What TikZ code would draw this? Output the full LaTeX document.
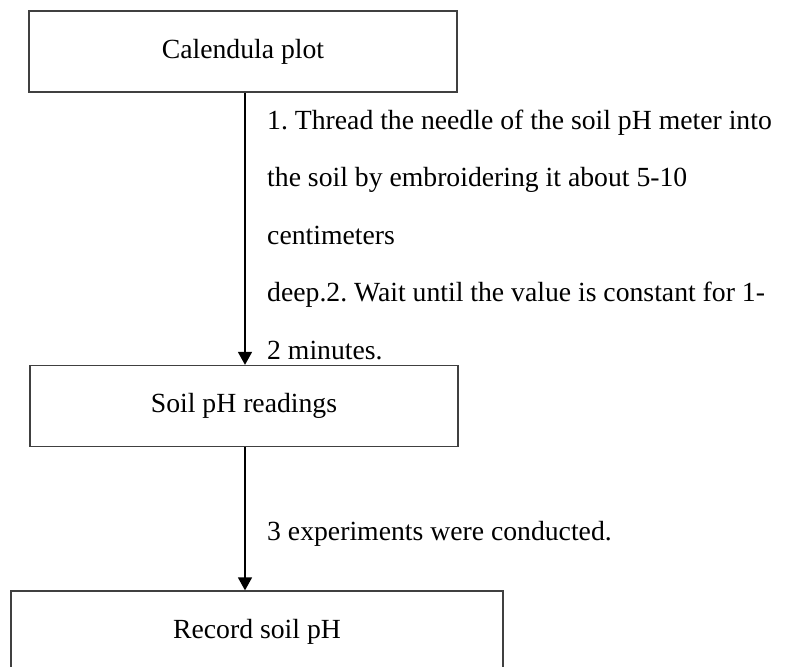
\documentclass[tikz,border=0pt]{standalone}
\usepackage{fontspec}
\setmainfont{Liberation Serif}
\usetikzlibrary{arrows.meta}

\tikzset{
  stage/.style={draw=black!75, line width=1.3pt, inner sep=0pt, minimum width=428pt, minimum height=81pt},
  flow/.style={line width=1.6pt, -{Triangle[width=14pt,length=13pt]}},
  note/.style={inner sep=0pt, align=left}
}

\begin{document}
\begin{tikzpicture}
  \begin{scope}[x=1pt,y=-1pt]

    \fontsize{27.7}{57.5}\selectfont\frenchspacing
    \clip (0,0) rectangle (789,666);

    \node[stage] (plot)     at (243,51.5)  {Calendula plot};
    \node[stage] (readings) at (244,406)   {Soil pH readings};
    \node[stage, minimum width=492pt] (record) at (257,631.5) {Record soil pH};

    \draw[flow] ([xshift=2pt]plot.south) -- ([xshift=1pt]readings.north);
    \draw[flow] ([xshift=1pt]readings.south) -- ([xshift=1pt]readings.south |- record.north);

    % base of a multi-line note is its last line
    \node[note, anchor=base west] (steps) at (267,359)
      {1. Thread the needle of the soil pH meter into\\
       the soil by embroidering it about 5-10\\
       centimeters\\
       deep.2. Wait until the value is constant for 1-\\
       2 minutes.};
    \node[note, anchor=base west] (repeats) at (267,540) {3 experiments were conducted.};

  \end{scope}
\end{tikzpicture}
\end{document}
